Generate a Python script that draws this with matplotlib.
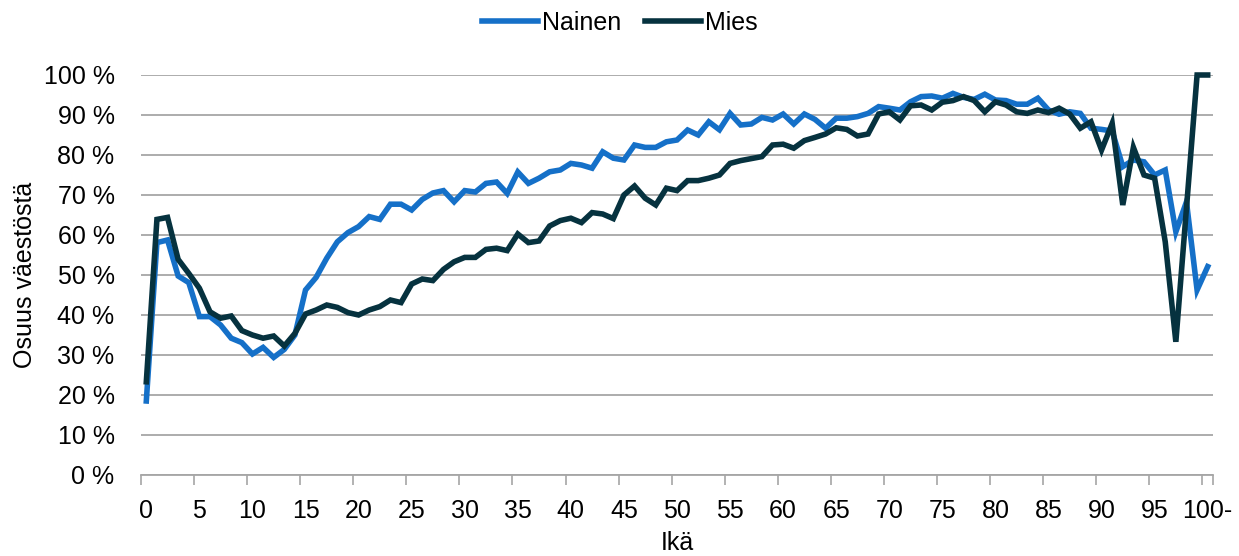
import matplotlib
matplotlib.use("Agg")
import matplotlib.pyplot as plt
from matplotlib.ticker import FixedLocator, FuncFormatter

ages = list(range(101))
tick_labels = [str(a) for a in range(0, 100, 5)] + ["100-"]

nainen = [18.5, 58.1, 58.75, 49.75, 48.1, 39.6, 39.6, 37.5, 34.2, 33.1,
          30.25, 31.9, 29.4, 31.4, 35.0, 46.25, 49.4, 54.2, 58.3, 60.6,
          62.1, 64.6, 63.9, 67.7, 67.7, 66.25, 68.9, 70.5, 71.1, 68.3,
          71.1, 70.75, 72.9, 73.25, 70.4, 75.75, 72.9, 74.2, 75.8, 76.25,
          77.9, 77.5, 76.7, 80.8, 79.2, 78.75, 82.5, 81.9, 81.9, 83.3,
          83.75, 86.25, 85.0, 88.3, 86.3, 90.4, 87.5, 87.75, 89.4, 88.75,
          90.25, 87.75, 90.25, 88.9, 86.7, 89.2, 89.2, 89.6, 90.4, 92.1,
          91.7, 91.25, 93.3, 94.6, 94.75, 94.2, 95.4, 94.4, 93.9, 95.2,
          93.75, 93.6, 92.7, 92.7, 94.2, 91.25, 90.2, 90.8, 90.4, 86.7,
          86.4, 86.0, 77.1, 78.75, 78.3, 75.0, 76.25, 60.8, 68.3, 46.25,
          52.1]

mies = [23.3, 63.9, 64.4, 53.9, 50.4, 46.7, 40.8, 39.2, 39.75, 36.1,
        35.0, 34.2, 34.75, 32.25, 35.4, 40.25, 41.25, 42.5, 41.9, 40.6,
        40.0, 41.25, 42.1, 43.75, 43.1, 47.75, 49.0, 48.6, 51.4, 53.3,
        54.4, 54.4, 56.4, 56.7, 56.1, 60.25, 58.1, 58.5, 62.25, 63.6,
        64.2, 63.1, 65.6, 65.25, 64.1, 70.0, 72.25, 69.2, 67.5, 71.7,
        71.1, 73.6, 73.6, 74.2, 75.0, 77.9, 78.6, 79.1, 79.6, 82.5,
        82.7, 81.7, 83.6, 84.4, 85.25, 86.8, 86.4, 84.75, 85.25, 90.25,
        90.8, 88.75, 92.3, 92.5, 91.25, 93.2, 93.6, 94.6, 93.6, 90.8,
        93.3, 92.5, 90.8, 90.4, 91.25, 90.6, 91.7, 90.25, 86.7, 88.3,
        81.25, 87.9, 67.5, 81.9, 75.0, 74.2, 58.3, 33.3, 66.7, 100.0,
        100.0]

plt.rcParams['font.family'] = ['Liberation Sans', 'DejaVu Sans']
FS = 18

W, H = 1239, 556
fig = plt.figure(figsize=(W / 100, H / 100), dpi=100)
ax = fig.add_axes([141 / W, 1 - 475 / H, (1213 - 141) / W, 400 / H])

blue = '#1570c8'
dark = '#06323f'
ax.plot(ages, nainen, color=blue, lw=4.0, label='Nainen', clip_on=False,
        solid_joinstyle='miter', zorder=3)
ax.plot(ages, mies, color=dark, lw=4.0, label='Mies', clip_on=False,
        solid_joinstyle='miter', zorder=4)

ax.set_xlim(-0.5, 100.5)
ax.set_ylim(0, 100)

ax.set_yticks(range(0, 101, 10))
ax.yaxis.set_major_formatter(FuncFormatter(lambda v, p: f"{int(v)} %"))
ax.yaxis.grid(True, color='#a6a6a6', lw=1.3)
ax.set_axisbelow(True)
ax.tick_params(axis='y', length=0, labelsize=FS, pad=19)

ax.set_xticks(list(range(0, 101, 5)))
ax.set_xticklabels(tick_labels)
ax.xaxis.set_minor_locator(FixedLocator([-0.5 + 5 * k for k in range(21)] + [100.5]))
ax.tick_params(axis='x', which='major', length=0, labelsize=FS, pad=17)
ax.tick_params(axis='x', which='minor', length=7, color='#a6a6a6', width=1.2)

for s in ['top', 'right', 'left']:
    ax.spines[s].set_visible(False)
ax.spines['bottom'].set_color('#a6a6a6')
ax.spines['bottom'].set_linewidth(1.3)

fig.text(677 / W, 1 - 543 / H, 'Ikä', fontsize=FS, ha='center', va='center')
fig.text(25 / W, 1 - 275 / H, 'Osuus väestöstä', fontsize=FS, ha='center',
         va='center', rotation=90)

leg = fig.legend(loc='center', bbox_to_anchor=(0.5, 1 - 23 / H), ncol=2,
                 frameon=False, fontsize=FS, handlelength=2.24,
                 handletextpad=0.16, columnspacing=0.96,
                 borderpad=0, borderaxespad=0)

fig.savefig('out.png', dpi=100)
